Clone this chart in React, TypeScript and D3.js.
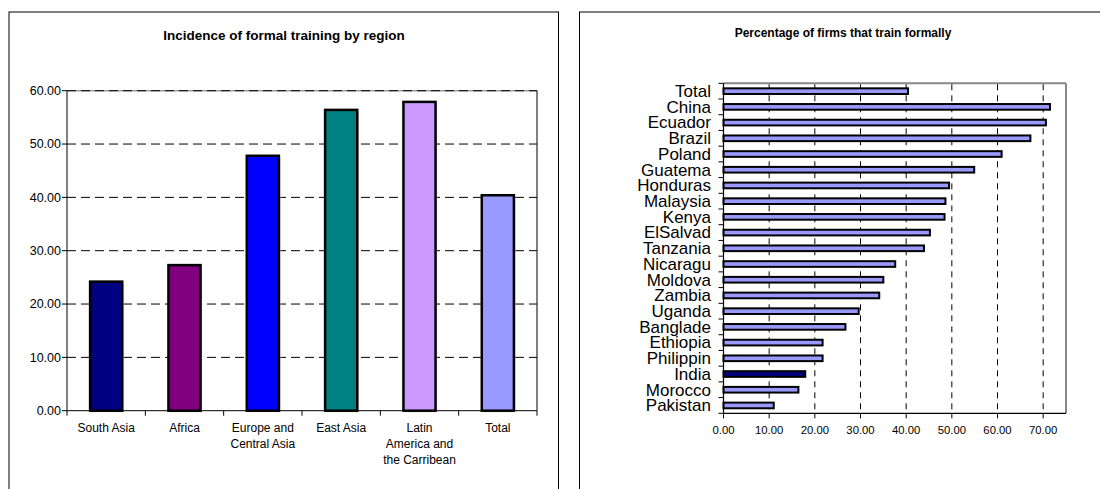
import React from "react";
import * as d3 from "d3";

const regions = ["South Asia", "Africa", "Europe and|Central Asia", "East Asia", "Latin|America and|the Carribean", "Total"];
const regionValues = [24.2, 27.3, 47.8, 56.4, 57.9, 40.4];
const regionColors = ["#000080", "#800080", "#0000FF", "#008080", "#CC99FF", "#9999FF"];
const regionTicks = [0, 10, 20, 30, 40, 50, 60];

const countries = ["Total", "China", "Ecuador", "Brazil", "Poland", "Guatema", "Honduras", "Malaysia", "Kenya", "ElSalvad", "Tanzania", "Nicaragu", "Moldova", "Zambia", "Uganda", "Banglade", "Ethiopia", "Philippin", "India", "Morocco", "Pakistan"];
const countryValues = [40.4, 71.5, 70.6, 67.2, 60.9, 54.9, 49.4, 48.6, 48.4, 45.2, 43.9, 37.6, 35.0, 34.1, 29.6, 26.7, 21.7, 21.7, 17.9, 16.4, 11.0];
const countryTicks = [0, 10, 20, 30, 40, 50, 60, 70];

const FONT = "Arial, 'Liberation Sans', sans-serif";

export default function App() {
  // Left chart scales
  const lx = d3.scaleBand<string>().domain(regions).range([67, 537]).padding(0);
  const ly = d3.scaleLinear().domain([0, 60]).range([410.7, 90.7]);
  const barW = lx.bandwidth() * 0.41;

  // Right chart scales
  const rx = d3.scaleLinear().domain([0, 75]).range([723.5, 1066]);
  const ry = d3.scaleBand<string>().domain(countries).range([83.3, 413.3]).padding(0);
  const barH = ry.bandwidth() * 0.36;
  const fmt = d3.format(".2f");

  const [lx0, lx1] = lx.range();
  const [ly0, ly1] = ly.range();
  const [rx0, rx1] = rx.range();
  const [ry0, ry1] = ry.range();

  return (
    <svg width={1100} height={489} style={{ position: "absolute", left: 0, top: 0, background: "#fff" }} fontFamily={FONT}>
      <rect x={0} y={0} width={1100} height={489} fill="#fff" />
      {/* Left frame */}
      <rect x={9} y={12} width={549.5} height={500} fill="#fff" stroke="#000" strokeWidth={1} />
      {/* Right frame */}
      <rect x={579.5} y={12} width={540} height={500} fill="#fff" stroke="#000" strokeWidth={1} />

      {/* LEFT CHART */}
      <text x={284} y={40} textAnchor="middle" fontWeight="bold" fontSize={13.5} fill="#000">
        Incidence of formal training by region
      </text>
      {/* plot border top (gray) and right */}
      <line x1={lx0} x2={lx1} y1={ly(60)} y2={ly(60)} stroke="#999" strokeWidth={1.5} />
      <line x1={lx1} x2={lx1} y1={ly(60)} y2={ly(0)} stroke="#000" strokeWidth={1} />
      {/* gridlines */}
      {regionTicks.filter((t) => t > 0).map((t) => (
        <line key={"lg" + t} x1={lx0} x2={lx1} y1={ly(t)} y2={ly(t)} stroke="#000" strokeWidth={1} strokeDasharray="9,5" />
      ))}
      {/* bars */}
      {regions.map((r, i) => {
        const cx = (lx(r) as number) + lx.bandwidth() / 2;
        return (
          <g key={"lb" + i}>
            <rect x={cx - barW / 2 + 1.5} y={ly(regionValues[i]) + 1.5} width={barW} height={ly(0) - ly(regionValues[i])} fill="#c8c8c8" />
            <rect x={cx - barW / 2} y={ly(regionValues[i])} width={barW} height={ly(0) - ly(regionValues[i])} fill={regionColors[i]} stroke="#000" strokeWidth={2.5} />
          </g>
        );
      })}
      {/* axes */}
      <line x1={lx0} x2={lx0} y1={ly1} y2={ly0} stroke="#000" strokeWidth={1} />
      <line x1={lx0} x2={lx1} y1={ly0} y2={ly0} stroke="#000" strokeWidth={1} />
      {regionTicks.map((t) => (
        <g key={"lyt" + t}>
          <line x1={lx0 - 5} x2={lx0} y1={ly(t)} y2={ly(t)} stroke="#000" />
          <text x={lx0 - 6} y={ly(t) + 4.3} textAnchor="end" fontSize={12.5} fill="#000">{fmt(t)}</text>
        </g>
      ))}
      {regions.map((r, i) => (
        <line key={"lxt" + i} x1={lx(r) as number} x2={lx(r) as number} y1={ly0} y2={ly0 + 5} stroke="#000" />
      ))}
      <line x1={lx1} x2={lx1} y1={ly0} y2={ly0 + 5} stroke="#000" />
      {regions.map((r, i) => {
        const cx = (lx(r) as number) + lx.bandwidth() / 2;
        return (
          <text key={"lxl" + i} x={cx} y={432} textAnchor="middle" fontSize={12} fill="#000">
            {r.split("|").map((line, j) => (
              <tspan key={j} x={cx} dy={j === 0 ? 0 : 16}>{line}</tspan>
            ))}
          </text>
        );
      })}

      {/* RIGHT CHART */}
      <text x={843} y={37} textAnchor="middle" fontWeight="bold" fontSize={12} fill="#000">
        Percentage of firms that train formally
      </text>
      {/* gray plot border top & right */}
      <line x1={rx0} x2={rx1} y1={ry0} y2={ry0} stroke="#888" strokeWidth={2} />
      <line x1={rx1} x2={rx1} y1={ry0} y2={ry1} stroke="#888" strokeWidth={2} />
      {/* gridlines */}
      {countryTicks.filter((t) => t > 0).map((t) => (
        <line key={"rg" + t} x1={rx(t)} x2={rx(t)} y1={ry0 + 1} y2={ry1} stroke="#000" strokeWidth={1} strokeDasharray="6,5" />
      ))}
      {/* bars */}
      {countries.map((c, i) => {
        const cy = (ry(c) as number) + ry.bandwidth() / 2;
        return (
          <rect key={"rb" + i} x={rx(0)} y={cy - barH / 2} width={rx(countryValues[i]) - rx(0)} height={barH}
            fill={c === "India" ? "#000080" : "#9999FF"} stroke="#000" strokeWidth={2} />
        );
      })}
      {/* axes */}
      <line x1={rx0} x2={rx0} y1={ry0} y2={ry1} stroke="#000" strokeWidth={1.2} />
      <line x1={rx0} x2={rx1} y1={ry1} y2={ry1} stroke="#000" strokeWidth={1.2} />
      {countries.map((c, i) => (
        <line key={"ryt" + i} x1={rx0 - 5} x2={rx0} y1={ry(c) as number} y2={ry(c) as number} stroke="#000" />
      ))}
      <line x1={rx0 - 5} x2={rx0} y1={ry1} y2={ry1} stroke="#000" />
      {countries.map((c, i) => {
        const cy = (ry(c) as number) + ry.bandwidth() / 2;
        return (
          <text key={"ryl" + i} x={711} y={cy + 5.8} textAnchor="end" fontSize={17} fill="#000">{c}</text>
        );
      })}
      {countryTicks.map((t) => (
        <g key={"rxt" + t}>
          <line x1={rx(t)} x2={rx(t)} y1={ry1} y2={ry1 + 5} stroke="#000" />
          <text x={rx(t)} y={434} textAnchor="middle" fontSize={11.3} fill="#000">{fmt(t)}</text>
        </g>
      ))}
    </svg>
  );
}
